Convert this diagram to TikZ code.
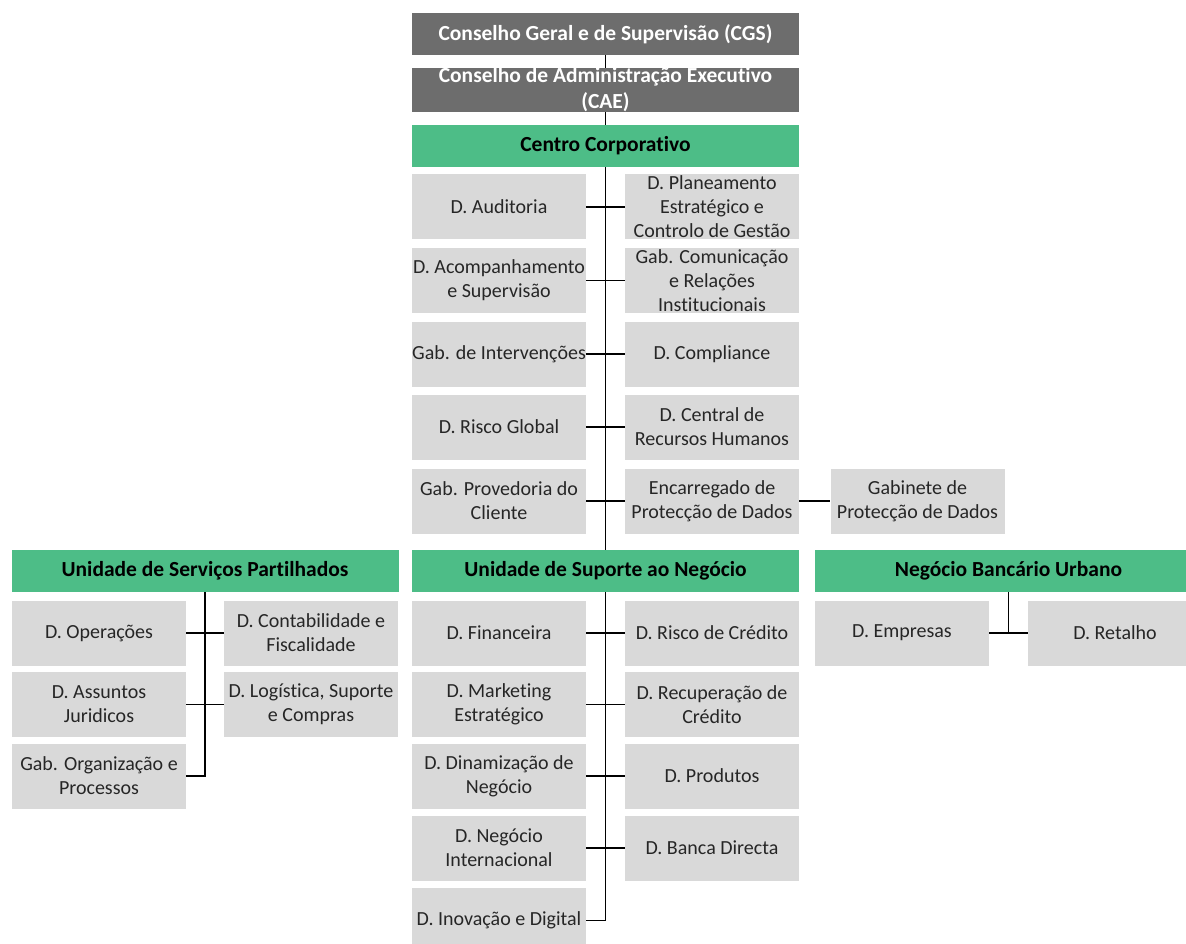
\documentclass[tikz,border=0pt]{standalone}
\usepackage{fontspec}
\setmainfont[Ligatures=NoCommon]{Carlito}
\definecolor{boardgray}{RGB}{109,109,109}
\definecolor{unitgreen}{RGB}{77,189,135}
\definecolor{deptgray}{RGB}{217,217,217}
\definecolor{depttext}{RGB}{38,38,38}
\tikzset{
    board/.style={fill=boardgray, text=white, font=\fontsize{21.5}{26}\selectfont\bfseries,
        minimum width=387pt, minimum height=42pt, inner sep=0pt, align=center},
    unit/.style={fill=unitgreen, text=black, font=\fontsize{21.5}{26}\selectfont\bfseries,
        minimum width=387pt, minimum height=42pt, inner sep=0pt, align=center},
    dept/.style={fill=deptgray, text=depttext, font=\fontsize{20}{24}\selectfont,
        minimum width=174pt, minimum height=65pt, inner sep=0pt, align=center},
    link/.style={draw=black, line width=1.6pt}
}
\begin{document}
\begin{tikzpicture}[x=1pt, y=-1pt]
        \useasboundingbox (0,0) rectangle (1186,944);
        % board and units
        \node[board] (cgs) at (605.5, 34) {Conselho Geral e de Supervisão (CGS)};
        \node[board] (cae) at (605.5, 90) {Conselho de Administração Executivo\\(CAE)};
        \node[unit] (cc) at (605.5, 146) {Centro Corporativo};
        \node[unit] (usp) at (205, 571) {Unidade de Serviços Partilhados};
        \node[unit] (usn) at (605.5, 571) {Unidade de Suporte ao Negócio};
        \node[unit] (nbu) at (1008.5, 571) {Negócio Bancário Urbano};
        % centro corporativo
        \node[dept] (a1) at (499, 207) {D. Auditoria};
        \node[dept] (b1) at (712, 207) {D. Planeamento\\Estratégico e\\Controlo de Gestão};
        \node[dept] (a2) at (499, 280.5) {D. Acompanhamento\\e Supervisão};
        \node[dept] (b2) at (712, 280.5) {Gab. Comunicação\\e Relações\\Institucionais};
        \node[dept] (a3) at (499, 354) {Gab. de Intervenções};
        \node[dept] (b3) at (712, 354) {D. Compliance};
        \node[dept] (a4) at (499, 427) {D. Risco Global};
        \node[dept] (b4) at (712, 427) {D. Central de\\Recursos Humanos};
        \node[dept] (a5) at (499, 501) {Gab. Provedoria do\\Cliente};
        \node[dept] (b5) at (712, 501) {Encarregado de\\Protecção de Dados};
        \node[dept] (gpd) at (917.5, 501) {Gabinete de\\Protecção de Dados};
        % servicos partilhados
        \node[dept] (o1) at (99, 633) {D. Operações};
        \node[dept] (p1) at (311, 633) {D. Contabilidade e\\Fiscalidade};
        \node[dept] (o2) at (99, 704.5) {D. Assuntos\\Juridicos};
        \node[dept] (p2) at (311, 704.5) {D. Logística, Suporte\\e Compras};
        \node[dept] (o3) at (99, 776) {Gab. Organização e\\Processos};
        % suporte ao negocio
        \node[dept] (f1) at (499, 633) {D. Financeira};
        \node[dept] (g1) at (712, 633) {D. Risco de Crédito};
        \node[dept] (f2) at (499, 704.5) {D. Marketing\\Estratégico};
        \node[dept] (g2) at (712, 704.5) {D. Recuperação de\\Crédito};
        \node[dept] (f3) at (499, 776) {D. Dinamização de\\Negócio};
        \node[dept] (g3) at (712, 776) {D. Produtos};
        \node[dept] (f4) at (499, 848) {D. Negócio\\Internacional};
        \node[dept] (g4) at (712, 848) {D. Banca Directa};
        \node[dept] (f5) at (499, 920.5) {D. Inovação e Digital};
        % negocio bancario
        \node[dept] (e1) at (902, 633) {D. Empresas};
        \node[dept] (r1) at (1115, 633) {D. Retalho};
        % connectors
        \draw[link] (cgs) -- (cae);
        \draw[link] (cae) -- (cc);
        \draw[link] (cc) -- (usn);
        \foreach \i in {1,...,5}
            \draw[link] (a\i) -- (b\i);
        \draw[link] (b5) -- (gpd);
        \draw[link] (usp) |- (o3);
        \draw[link] (o1) -- (p1);
        \draw[link] (o2) -- (p2);
        \draw[link] (usn) |- (f5);
        \foreach \i in {1,...,4}
            \draw[link] (f\i) -- (g\i);
        \draw[link] (nbu) -- (nbu |- e1);
        \draw[link] (e1) -- (r1);
\end{tikzpicture}
\end{document}
